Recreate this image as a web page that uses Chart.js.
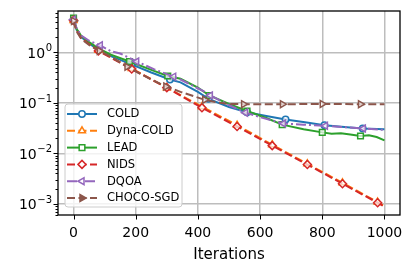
<!DOCTYPE html>
<html>
<head>
<meta charset="utf-8">
<script src="https://cdn.jsdelivr.net/npm/chart.js@4.4.0/dist/chart.umd.min.js"></script>
<style>
  html, body { margin: 0; padding: 0; background: #fff; }
</style>
</head>
<body>
<canvas id="chart" width="415" height="272"></canvas>
<script>
// Values (iteration, error) per method
const coldIt  = [0, 10, 25, 50, 80, 120, 186, 250, 310, 344, 400, 434, 500, 558, 620, 682, 750, 807, 880, 930, 1000];
const coldVal = [4.3, 2.8, 2.0, 1.5, 1.12, 0.84, 0.58, 0.4, 0.29, 0.255, 0.165, 0.12, 0.083, 0.065, 0.055, 0.047, 0.041, 0.036, 0.033, 0.031, 0.030];
const coldMarks = [0, 186, 310, 434, 558, 682, 807, 930];

const dynaIt  = [0, 10, 25, 50, 80, 187, 300, 413, 526, 639, 752, 865, 978, 1000];
const dynaVal = [4.3, 2.75, 1.95, 1.48, 1.1, 0.48, 0.2, 0.084, 0.036, 0.0148, 0.0062, 0.0026, 0.00108, 0.0009];
const dynaMarks = [0, 80, 187, 300, 413, 526, 639, 752, 865, 978];

const leadIt  = [0, 10, 25, 50, 80, 120, 180, 250, 303, 344, 400, 437, 500, 558, 620, 671, 740, 800, 830, 860, 890, 923, 950, 975, 1000];
const leadVal = [4.8, 2.9, 2.1, 1.6, 1.2, 0.9, 0.66, 0.45, 0.34, 0.3, 0.2, 0.14, 0.095, 0.069, 0.05, 0.037, 0.03, 0.026, 0.0245, 0.025, 0.0235, 0.022, 0.0228, 0.021, 0.018];
const leadMarks = [0, 180, 303, 437, 558, 671, 800, 923];

const nidsIt  = [0, 10, 25, 50, 80, 187, 300, 413, 526, 639, 752, 865, 978, 1000];
const nidsVal = [4.3, 2.7, 1.9, 1.45, 1.07, 0.47, 0.2, 0.08, 0.034, 0.0142, 0.006, 0.0025, 0.00105, 0.00088];
const nidsMarks = [0, 80, 187, 300, 413, 526, 639, 752, 865, 978];

const dqoaIt  = [0, 10, 25, 50, 86, 120, 150, 203, 260, 322, 344, 418, 440, 500, 553, 600, 675, 740, 810, 870, 932, 1000];
const dqoaVal = [4.5, 3.0, 2.15, 1.7, 1.38, 1.05, 0.95, 0.66, 0.46, 0.33, 0.29, 0.17, 0.14, 0.09, 0.064, 0.052, 0.039, 0.037, 0.035, 0.033, 0.031, 0.029];
const dqoaMarks = [0, 86, 203, 322, 440, 553, 675, 810, 932];

const chocoIt  = [0, 10, 25, 50, 83, 120, 172, 250, 297, 344, 422, 470, 500, 547, 672, 800, 923, 1000];
const chocoVal = [4.2, 2.6, 1.85, 1.4, 1.07, 0.82, 0.52, 0.29, 0.21, 0.165, 0.115, 0.1, 0.095, 0.094, 0.094, 0.095, 0.094, 0.094];
const chocoMarks = [0, 83, 172, 297, 422, 547, 672, 800, 923];

const xTicks = [0, 200, 400, 600, 800, 1000];
const yTicks = [1e-3, 1e-2, 1e-1, 1];
const yTickExp = ['−3', '−2', '−1', '0'];

const FONT = "'DejaVu Sans', sans-serif";

function series(label, its, vals, marks, color, dash, style, rot, order, legendFill) {
    return {
        label,
        data: its.map((x, i) => ({ x, y: vals[i] })),
        borderColor: color,
        borderWidth: 2,
        borderDash: dash,
        pointStyle: style,
        pointRotation: rot,
        pointRadius: ctx => marks.includes(ctx.raw.x) ? (style === 'circle' ? 3.2 : 4) : 0,
        pointBorderWidth: 1.5,
        pointBorderColor: color,
        pointBackgroundColor: 'rgba(255,255,255,0.7)',
        tension: 0,
        fill: false,
        order,
        legendFill
    };
}

const datasets = [
    series('COLD', coldIt, coldVal, coldMarks, '#1f77b4', [], 'circle', 0, 6, '#fff'),
    series('Dyna-COLD', dynaIt, dynaVal, dynaMarks, '#ff7f0e', [8, 3.5], 'triangle', 0, 5, '#fff'),
    series('LEAD', leadIt, leadVal, leadMarks, '#2ca02c', [], 'rect', 0, 4, '#fff'),
    series('NIDS', nidsIt, nidsVal, nidsMarks, '#d62728', [8, 3.5], 'rectRot', 0, 3, '#fff'),
    series('DQOA', dqoaIt, dqoaVal, dqoaMarks, '#9467bd', [10, 3, 2, 3], 'triangle', -90, 2, '#fff'),
    series('CHOCO-SGD', chocoIt, chocoVal, chocoMarks, '#8c564b', [8, 3.5], 'triangle', 90, 1, '#8c564b')
];

// tick marks, y labels with superscripts, frame and the in-axes legend
const framePlugin = {
    id: 'frame',
    afterDraw(chart) {
        const { ctx, chartArea: a, scales } = chart;
        ctx.save();
        ctx.strokeStyle = '#000';
        ctx.lineWidth = 1;
        ctx.beginPath();
        scales.x.ticks.forEach(t => {
            const px = Math.round(scales.x.getPixelForValue(t.value)) + 0.5;
            ctx.moveTo(px, a.bottom);
            ctx.lineTo(px, a.bottom + 4.5);
        });
        scales.y.ticks.forEach(t => {
            const py = Math.round(scales.y.getPixelForValue(t.value)) + 0.5;
            const len = yTicks.includes(t.value) ? 4.5 : 2.5;
            ctx.moveTo(a.left, py);
            ctx.lineTo(a.left - len, py);
        });
        ctx.stroke();

        // y tick labels: "10" plus raised exponent
        ctx.fillStyle = '#000';
        ctx.textAlign = 'right';
        ctx.textBaseline = 'alphabetic';
        yTicks.forEach((v, i) => {
            const py = scales.y.getPixelForValue(v);
            const right = a.left - 6;
            ctx.font = '10px ' + FONT;
            const ew = ctx.measureText(yTickExp[i]).width;
            ctx.fillText(yTickExp[i], right, py - 1);
            ctx.font = '14px ' + FONT;
            ctx.fillText('10', right - ew - 0.5, py + 5.3);
        });
        ctx.textAlign = 'left';

        ctx.lineWidth = 1.3;
        ctx.strokeRect(a.left, a.top, a.right - a.left, a.bottom - a.top);

        // legend
        const lg = { x: a.left + 7, y: a.bottom - 8 - 103, w: 117, h: 103 };
        ctx.beginPath();
        ctx.roundRect(lg.x, lg.y, lg.w, lg.h, 3);
        ctx.fillStyle = 'rgba(255,255,255,0.8)';
        ctx.fill();
        ctx.strokeStyle = '#cccccc';
        ctx.lineWidth = 1;
        ctx.stroke();

        ctx.font = '11.5px ' + FONT;
        ctx.textBaseline = 'middle';
        chart.data.datasets.forEach((ds, i) => {
            const cy = lg.y + 10 + i * 16.8;
            ctx.strokeStyle = ds.borderColor;
            ctx.lineWidth = 2;
            ctx.setLineDash(ds.borderDash);
            ctx.beginPath();
            ctx.moveTo(lg.x + 2, cy);
            ctx.lineTo(lg.x + 32, cy);
            ctx.stroke();
            ctx.setLineDash([]);
            ctx.fillStyle = ds.legendFill;
            ctx.lineWidth = 1.5;
            Chart.helpers.drawPoint(ctx, {
                pointStyle: ds.pointStyle,
                rotation: ds.pointRotation,
                radius: ds.pointStyle === 'circle' ? 3.2 : 4,
                borderWidth: 1.5
            }, lg.x + 17, cy);
            ctx.fillStyle = '#000';
            ctx.fillText(ds.label, lg.x + 42, cy + 0.5);
        });
        ctx.restore();
    }
};

new Chart(document.getElementById('chart'), {
    type: 'line',
    data: { datasets },
    options: {
        responsive: false,
        animation: false,
        devicePixelRatio: 1,
        layout: { padding: { top: 11, right: 15, left: 0, bottom: 0 } },
        plugins: { legend: { display: false }, tooltip: { enabled: false } },
        scales: {
            x: {
                type: 'linear',
                min: -50,
                max: 1050,
                afterFit: s => { s.height = 57; },
                afterBuildTicks: s => { s.ticks = xTicks.map(v => ({ value: v })); },
                grid: { color: '#bdbdbd', lineWidth: 1.5, drawTicks: false },
                border: { display: false },
                ticks: {
                    color: '#000',
                    font: { family: FONT, size: 14 },
                    padding: 10,
                    autoSkip: false,
                    maxRotation: 0,
                    callback: v => String(v)
                },
                title: {
                    display: true,
                    text: 'Iterations',
                    color: '#000',
                    font: { family: FONT, size: 15 },
                    padding: { top: 0, bottom: 8 }
                }
            },
            y: {
                type: 'logarithmic',
                min: 6.4e-4,
                max: 6.6,
                afterFit: s => { s.width = 58; },
                afterBuildTicks: s => {
                    const t = [];
                    yTicks.concat([1e-4, 10]).forEach(d => {
                        for (let k = 1; k < 10; k++) {
                            const v = k === 1 ? d : k * d;
                            if (v >= s.min && v <= s.max) t.push({ value: v });
                        }
                    });
                    t.sort((p, q) => p.value - q.value);
                    s.ticks = t;
                },
                grid: {
                    color: c => yTicks.includes(c.tick.value) ? '#bdbdbd' : 'rgba(0,0,0,0)',
                    lineWidth: 1.5,
                    drawTicks: false
                },
                border: { display: false },
                ticks: { display: false }
            }
        }
    },
    plugins: [framePlugin]
});
</script>
</body>
</html>
